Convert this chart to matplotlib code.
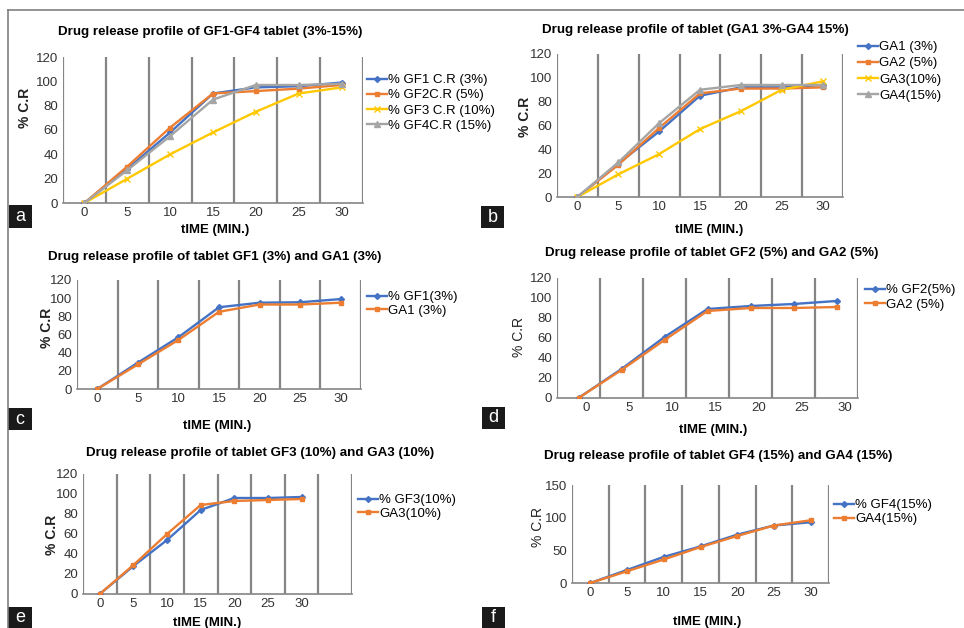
import matplotlib
matplotlib.use('Agg')
import matplotlib.pyplot as plt
import matplotlib.transforms as mtransforms
from matplotlib.patches import Rectangle
from matplotlib.lines import Line2D

plt.rcParams['font.family'] = ['Liberation Sans', 'DejaVu Sans']

W, H = 964, 628

times = ['0', '5', '10', '15', '20', '25', '30']

# a - GF1..GF4
gf1_a = [0, 28, 58, 90, 95, 96, 99]
gf2_a = [0, 30, 62, 90, 92, 94, 97]
gf3_a = [0, 20, 40, 58, 75, 90, 95]
gf4_a = [0, 27, 55, 85, 97, 97, 98]
labels_a = ['% GF1 C.R (3%)', '% GF2C.R (5%)', '% GF3 C.R (10%)', '% GF4C.R (15%)']

# b - GA1..GA4
ga1_b = [0, 28, 55, 85, 92, 92, 94]
ga2_b = [0, 27, 58, 87, 91, 91, 92]
ga3_b = [0, 19, 36, 57, 72, 90, 97]
ga4_b = [0, 29, 62, 90, 94, 94, 94]
labels_b = ['GA1 (3%)', 'GA2 (5%)', 'GA3(10%)', 'GA4(15%)']

# c
gf1_c = [0, 29, 57, 90, 95, 95.5, 99]
ga1_c = [0, 27, 54, 85, 93, 93, 95]
labels_c = ['% GF1(3%)', 'GA1 (3%)']

# d
gf2_d = [0, 29, 61, 89, 92, 94, 97]
ga2_d = [0, 28, 58, 87, 90, 90, 91]
labels_d = ['% GF2(5%)', 'GA2 (5%)']

# e (chart has an extra empty category)
gf3_e = [0, 28, 54, 84, 96, 96, 97]
ga3_e = [0, 29, 60, 89, 93, 94, 95]
labels_e = ['% GF3(10%)', 'GA3(10%)']
times_e = times + ['']

# f
gf4_f = [0, 20, 40, 56, 74, 88, 93]
ga4_f = [0, 18, 36, 55, 72, 88, 96]
labels_f = ['% GF4(15%)', 'GA4(15%)']

BLUE = '#4472C4'
ORANGE = '#ED7D31'
YELLOW = '#FFC800'
GRAY = '#A5A5A5'
styles = {
    'blue': dict(color=BLUE, marker='D', ms=3),
    'orange': dict(color=ORANGE, marker='s', ms=3.5),
    'yellow': dict(color=YELLOW, marker='x', ms=4, mew=1),
    'gray': dict(color=GRAY, marker='^', ms=4),
}

fig = plt.figure(figsize=(W / 100, H / 100), dpi=100)


def px_axes(l, t, r, b):
    return fig.add_axes([l / W, 1 - b / H, (r - l) / W, (b - t) / H])


def ftext(x, y, s, **kw):
    fig.text(x / W, 1 - y / H, s, **kw)


def panel(box, cats, ymax, ystep, series, labels, title, title_xy, xlab_xy,
          ylab_xy, ylab_bold, leg_xy, leg_space, tick_shift=0):
    ax = px_axes(*box)
    n = len(cats)
    x = list(range(len(series[0][0])))
    handles = []
    for vals, key in series:
        st = styles[key]
        ln, = ax.plot(x, vals, lw=1.7, solid_joinstyle='round', zorder=3, **st)
        handles.append(ln)
    ax.set_xlim(-0.5, n - 0.5)
    ax.set_ylim(0, ymax)
    for i in range(n + 1):
        ax.axvline(i - 0.5, color='#858585', lw=1.6, zorder=1)
    for s in ['top', 'right', 'left']:
        ax.spines[s].set_visible(False)
    ax.spines['bottom'].set_color('#858585')
    ax.spines['bottom'].set_linewidth(1.2)
    ax.set_xticks(range(n))
    ax.set_xticklabels(cats)
    ax.set_yticks(range(0, ymax + 1, ystep))
    ax.tick_params(length=0, labelsize=9.5, labelcolor='#333333')
    ax.tick_params(axis='y', pad=3.5)
    ax.tick_params(axis='x', pad=3)
    if tick_shift:
        off = mtransforms.ScaledTranslation(tick_shift / 100, 0, fig.dpi_scale_trans)
        for lab in ax.get_xticklabels():
            lab.set_transform(lab.get_transform() + off)
    ax.set_facecolor('none')
    ftext(*title_xy, title, ha='center', va='center', fontsize=9.6, fontweight='bold')
    ftext(*xlab_xy, 'tIME (MIN.)', ha='center', va='center', fontsize=9.5, fontweight='bold')
    ftext(*ylab_xy, '% C.R', ha='center', va='center', rotation=90, fontsize=10,
          fontweight='bold' if ylab_bold else 'normal', color='#222222')
    ax.legend(handles, labels, loc='upper left',
              bbox_to_anchor=(leg_xy[0] / W, 1 - leg_xy[1] / H),
              bbox_transform=fig.transFigure, frameon=False, fontsize=9.5,
              handlelength=1.5, handletextpad=0.1, labelspacing=leg_space,
              borderpad=0, borderaxespad=0, markerscale=1.0)
    return ax


panel((63, 57, 363, 203), times, 120, 20,
      [(gf1_a, 'blue'), (gf2_a, 'orange'), (gf3_a, 'yellow'), (gf4_a, 'gray')],
      labels_a, 'Drug release profile of GF1-GF4 tablet (3%-15%)', (210, 32),
      (215, 230), (25, 108), True, (367, 74), 0.22)

panel((557, 54, 843, 197), times, 120, 20,
      [(ga1_b, 'blue'), (ga2_b, 'orange'), (ga3_b, 'yellow'), (ga4_b, 'gray')],
      labels_b, 'Drug release profile of tablet (GA1 3%-GA4 15%)', (695, 30),
      (709, 230), (525, 117), True, (858, 41), 0.3)

panel((77, 280, 361, 389), times, 120, 20,
      [(gf1_c, 'blue'), (ga1_c, 'orange')],
      labels_c, 'Drug release profile of tablet GF1 (3%) and GA1 (3%)', (215, 257),
      (217, 426), (47, 328), True, (367, 291), 0.1)

panel((557, 278, 858, 398), times, 120, 20,
      [(gf2_d, 'blue'), (ga2_d, 'orange')],
      labels_d, 'Drug release profile of tablet GF2 (5%) and GA2 (5%)', (712, 253),
      (713, 430), (519, 337), False, (865, 284), 0.2, tick_shift=8)

panel((83, 474, 352, 594), times_e, 120, 20,
      [(gf3_e, 'blue'), (ga3_e, 'orange')],
      labels_e, 'Drug release profile of tablet GF3 (10%) and GA3 (10%)', (260, 453),
      (207, 623), (52, 535), True, (358, 494), 0.1)

panel((572, 485, 829, 583), times, 150, 50,
      [(gf4_f, 'blue'), (ga4_f, 'orange')],
      labels_f, 'Drug release profile of tablet GF4 (15%) and GA4 (15%)', (718, 456),
      (707, 622), (538, 527), False, (834, 499), 0.15)

# outer frame (top and left edges)
fig.add_artist(Line2D([8 / W, 1], [1 - 10 / H, 1 - 10 / H], transform=fig.transFigure,
                      color='#808080', lw=1.2))
fig.add_artist(Line2D([8 / W, 8 / W], [0, 1 - 10 / H], transform=fig.transFigure,
                      color='#808080', lw=1.2))

# panel letters
for letter, (bx, by, bw, bh) in {'a': (9, 205, 23, 23), 'b': (481, 206, 23, 22),
                                 'c': (8, 408, 24, 22), 'd': (482, 407, 23, 22),
                                 'e': (8, 607, 24, 21), 'f': (482, 607, 23, 21)}.items():
    fig.add_artist(Rectangle((bx / W, 1 - (by + bh) / H), bw / W, bh / H,
                             transform=fig.transFigure, facecolor='#1a1a1a',
                             edgecolor='none'))
    ftext(bx + bw / 2, by + bh / 2, letter, ha='center', va='center',
          color='white', fontsize=13)

fig.savefig('out.png', dpi=100)
